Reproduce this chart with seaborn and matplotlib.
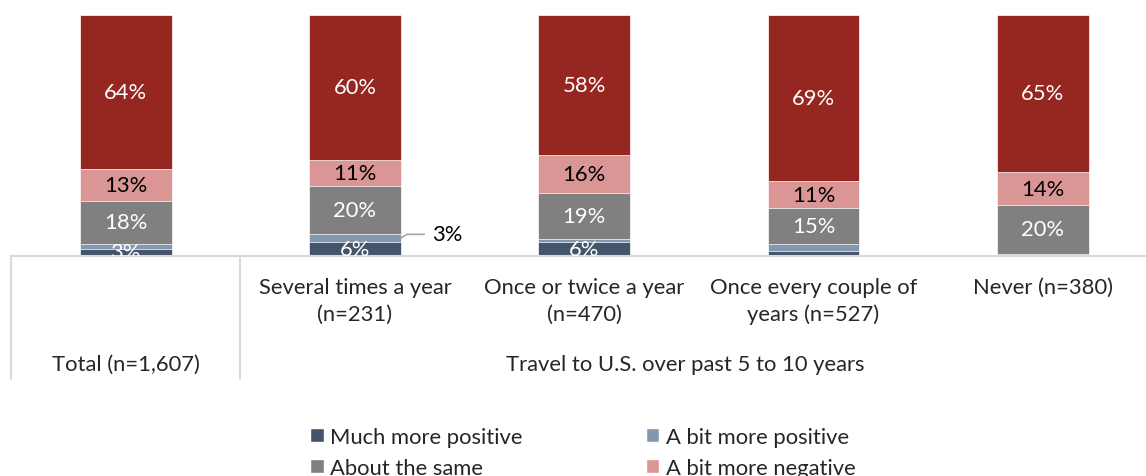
import numpy as np
import pandas as pd
import matplotlib.pyplot as plt
from matplotlib.patches import Patch
import seaborn as sns

categories = ["Total (n=1,607)", "Several times a year\n(n=231)", "Once or twice a year\n(n=470)",
              "Once every couple of\nyears (n=527)", "Never (n=380)"]
series = ["Much more positive", "A bit more positive", "About the same",
          "A bit more negative", "Much more negative"]
much_pos = [3, 6, 6, 2, 0]
bit_pos = [2, 3, 1, 3, 1]
same = [18, 20, 19, 15, 20]
bit_neg = [13, 11, 16, 11, 14]
much_neg = [64, 60, 58, 69, 65]
group_label = "Travel to U.S. over past 5 to 10 years"

colors = ["#44546A", "#8497B0", "#808080", "#DA9694", "#962620"]
label_colors = ["white", "white", "white", "black", "white"]
line_grey = "#D9D9D9"
FS = 15.8

sns.set_style("white")
plt.rcParams['font.family'] = ['Lato', 'DejaVu Sans']
plt.rcParams['font.size'] = FS

values = np.array([much_pos, bit_pos, same, bit_neg, much_neg], dtype=float)
cum = np.cumsum(values, axis=0)
df = pd.DataFrame({"category": categories})
for i, s in enumerate(series):
    df[s] = cum[i]

fig = plt.figure(figsize=(11.46, 4.77), dpi=100)
ax = fig.add_axes([11 / 1146, 1 - 257 / 477, 1135 / 1146, 241 / 477])

# overlay cumulative bars, tallest first
for i in range(len(series) - 1, -1, -1):
    sns.barplot(data=df, x="category", y=series[i], color=colors[i], saturation=1,
                width=0.4, errorbar=None, edgecolor="white", linewidth=0.5, ax=ax)

# segment labels
for i, s in enumerate(series):
    for j in range(len(categories)):
        v = values[i, j]
        if i == 1 or v < 3:
            continue
        y = cum[i, j] - v / 2
        ax.text(j, y, f"{v:.0f}%", ha="center", va="center", color=label_colors[i],
                fontsize=FS, clip_on=True)

# callout for the small segment
ax.annotate(f"{bit_pos[1]}%", xy=(1.2, much_pos[1] + bit_pos[1] / 2), xytext=(1.335, 9.0),
            ha="left", va="center", fontsize=FS, color="black",
            arrowprops=dict(arrowstyle="-", color="#A6A6A6", lw=1.2, shrinkA=3, shrinkB=0,
                            connectionstyle="angle,angleA=0,angleB=30,rad=0"))

ax.set_ylim(0, 100)
ax.set_xlim(-0.5, 4.45)
ax.set_yticks([])
ax.set_ylabel("")
ax.set_xlabel("")
ax.set_xticks(range(len(categories)), [""] + categories[1:])
ax.tick_params(axis="x", length=0, pad=15, labelsize=FS)
for lbl in ax.get_xticklabels():
    lbl.set_linespacing(1.42)

for sp in ["top", "right", "left"]:
    ax.spines[sp].set_visible(False)
ax.spines["bottom"].set_color(line_grey)
ax.spines["bottom"].set_linewidth(1.5)

trans = ax.get_xaxis_transform()
low = -123 / 241
for x in [-0.5, 0.5]:
    ax.plot([x, x], [0, low], color=line_grey, lw=1.5, transform=trans, clip_on=False)
ax.text(0, -108 / 241, categories[0], transform=trans, ha="center", va="center", fontsize=FS)
ax.text(2.44, -108 / 241, group_label, transform=trans, ha="center", va="center", fontsize=FS)

# legend, row-wise order in two columns
handles = [Patch(facecolor=c) for c in colors]
order = [0, 2, 4, 1, 3]
fig.legend([handles[k] for k in order], [series[k] for k in order], ncol=2,
           loc="upper left", bbox_to_anchor=(310 / 1146, 1 - 428 / 477), frameon=False,
           handlelength=0.62, handleheight=0.62, handletextpad=0.3, columnspacing=5.3,
           labelspacing=0.48, fontsize=FS, borderaxespad=0, borderpad=0)

fig.savefig("out.png", dpi=100)
